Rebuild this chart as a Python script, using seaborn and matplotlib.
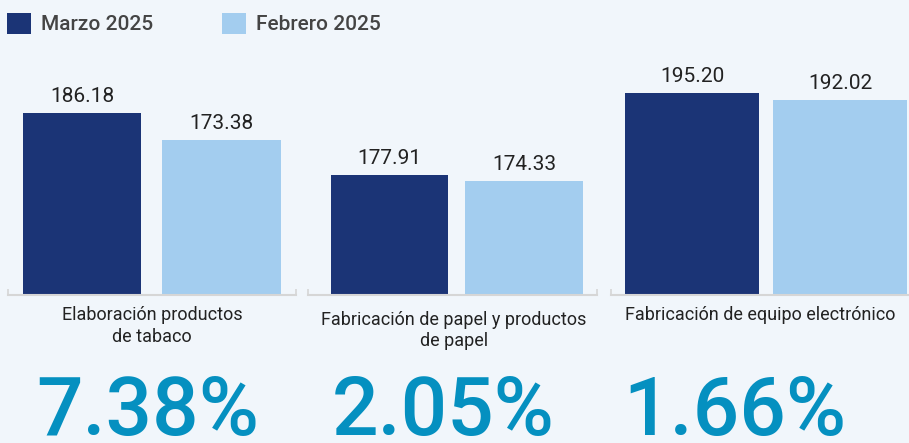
import pandas as pd
import numpy as np
import matplotlib.pyplot as plt
import seaborn as sns
from matplotlib.patches import Patch

grupos = ['Elaboración productos\nde tabaco',
          'Fabricación de papel y productos\nde papel',
          'Fabricación de equipo electrónico']
series = ['Marzo 2025', 'Febrero 2025']
marzo = [186.18, 177.91, 195.20]
febrero = [173.38, 174.33, 192.02]
variacion = ['7.38%', '2.05%', '1.66%']

colores = ['#1b3476', '#a3cdef']
fondo = '#f1f6fb'

sns.set_theme(style='white')
plt.rcParams['font.family'] = ['Roboto', 'DejaVu Sans']

W, H = 909, 443
fig = plt.figure(figsize=(W / 100, H / 100), dpi=100, facecolor=fondo)

# cada panel: borde izq/der en px, xlim, gap entre barras, px por unidad en y
paneles = [(8, 296, (-0.443, 0.445), 0.15, 2.113),
           (308, 597, (-0.4756, 0.4484), 0.126, 1.54),
           (611, 922, (-0.451, 0.453), 0.095, 2.119)]
base_px, top_px = 295, 60
etiqueta_y = [306, 311, 306]
etiqueta_x = [152, 454, 760]
pct_x = [148, 443, 735]

for i, (x0, x1, lim, gap, esc) in enumerate(paneles):
    ax = fig.add_axes([x0 / W, 1 - base_px / H, (x1 - x0) / W, (base_px - top_px) / H])
    ax.set_facecolor('none')
    df = pd.DataFrame({'grupo': [grupos[i]] * 2, 'serie': series,
                       'valor': [marzo[i], febrero[i]]})
    sns.barplot(data=df, x='grupo', y='valor', hue='serie', hue_order=series,
                palette=colores, saturation=1, width=0.86, gap=gap, legend=False,
                linewidth=0, ax=ax)
    for c in ax.containers:
        ax.bar_label(c, fmt='%.2f', padding=5, fontsize=15, color='#222222')
    ax.set_ylim(100, 100 + (base_px - top_px) / esc)
    ax.set_xlim(*lim)
    ax.set_xlabel('')
    ax.set_ylabel('')
    ax.set_yticks([])
    ax.set_xticks(list(lim))
    ax.set_xticklabels(['', ''])
    ax.tick_params(axis='x', direction='in', length=4, width=1.2, color='#d6d6d6', bottom=True)
    for s in ['top', 'left', 'right']:
        ax.spines[s].set_visible(False)
    ax.spines['bottom'].set_color('#d6d6d6')
    ax.spines['bottom'].set_linewidth(1.5)

    fig.text(etiqueta_x[i] / W, 1 - etiqueta_y[i] / H, grupos[i],
             ha='center', va='top', fontsize=13, color='#222222', linespacing=1.25)
    fig.text(pct_x[i] / W, 1 - 435 / H, variacion[i], ha='center', va='baseline',
             fontsize=59, color='#0590c0', fontweight='medium')

handles = [Patch(facecolor=c, edgecolor='none') for c in colores]
fig.legend(handles, series, loc='upper left', bbox_to_anchor=(7 / W, 1 - 13 / H), ncol=2,
           frameon=False, handlelength=1.15, handleheight=1.15, handletextpad=0.48,
           columnspacing=3.3, borderaxespad=0, borderpad=0,
           prop={'family': 'Roboto', 'weight': 'medium', 'size': 15},
           labelcolor='#444444')

fig.savefig('out.png', dpi=100, facecolor=fondo)
